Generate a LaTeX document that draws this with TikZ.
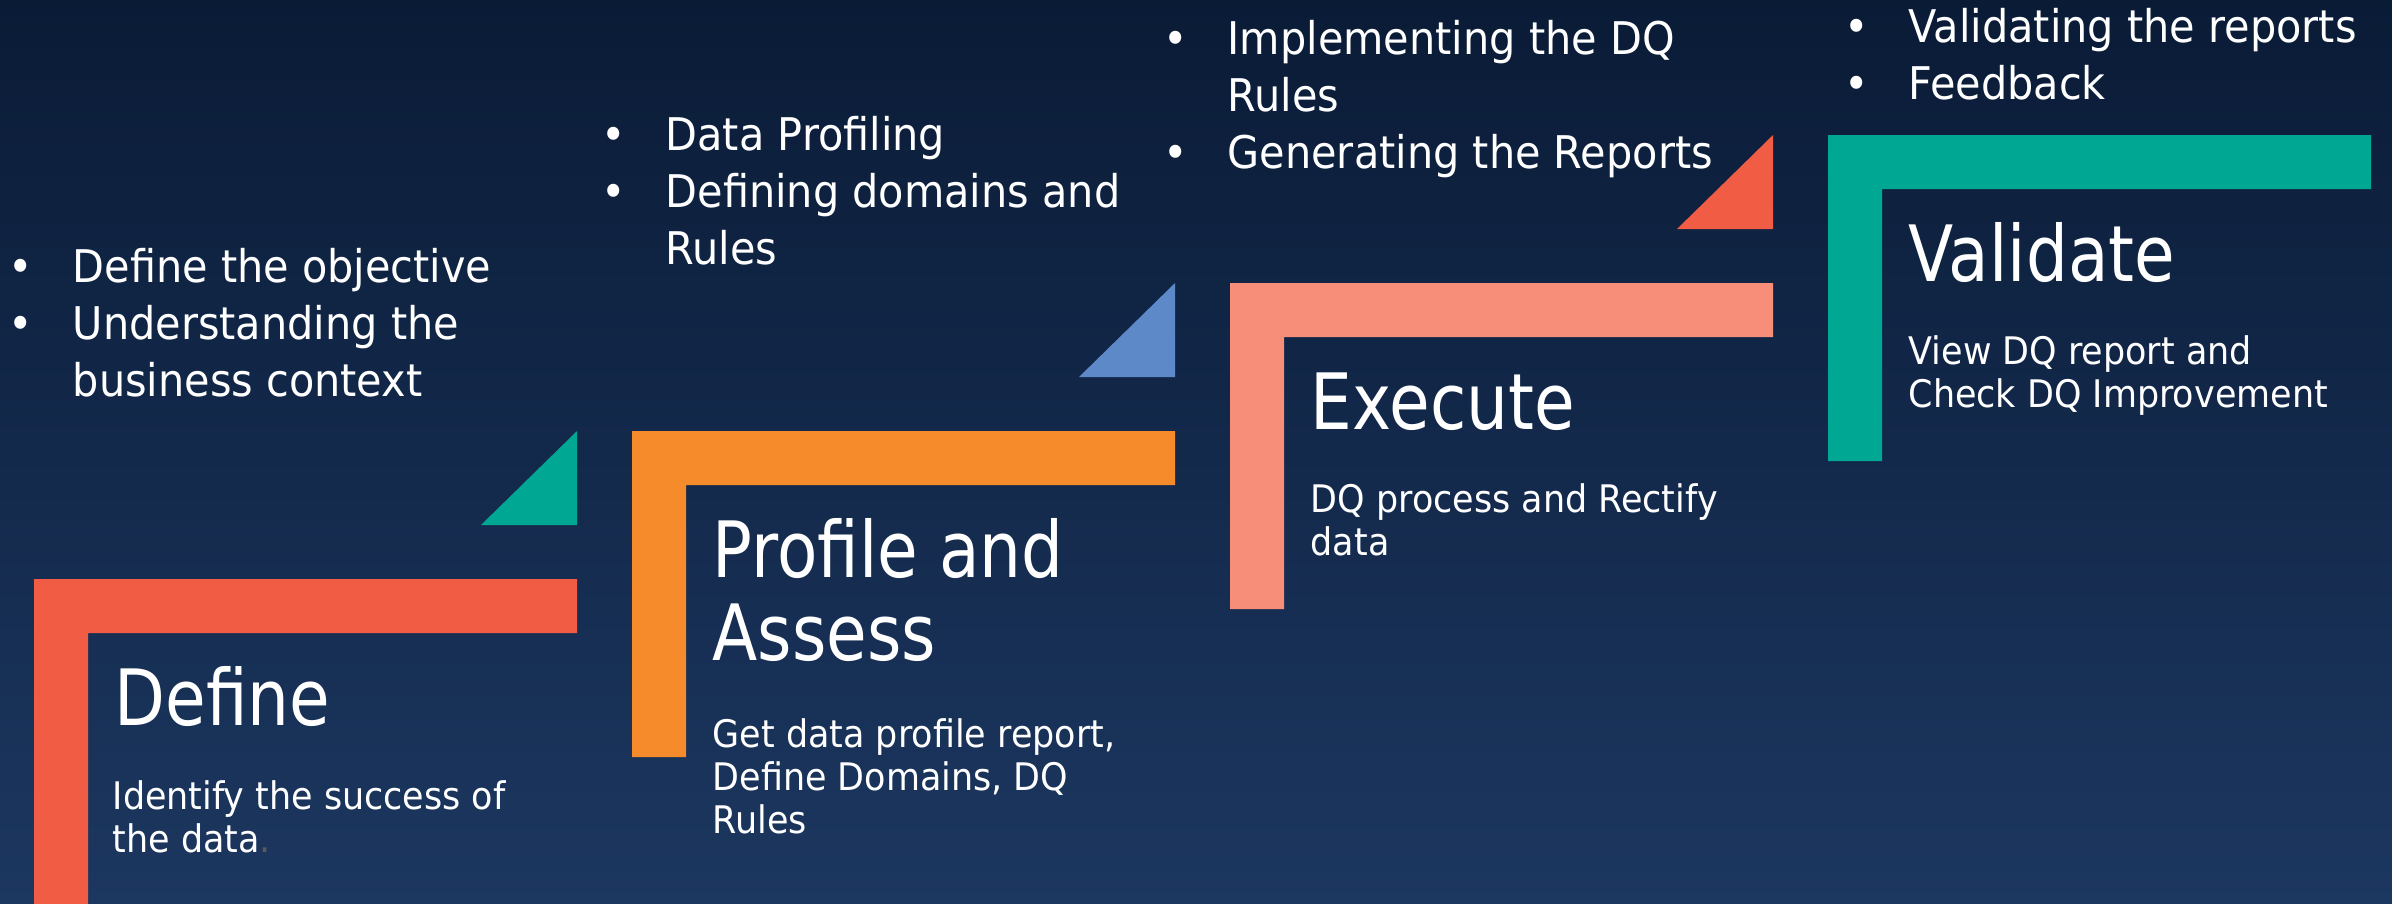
\documentclass[tikz,border=0pt]{standalone}
\usepackage{fontspec}
\setmainfont{DejaVu Sans}[FakeStretch=0.92]
\newfontfamily\headfont{DejaVu Sans}[FakeStretch=0.85]
\definecolor{bgtop}{HTML}{0A1B36}
\definecolor{bgbot}{HTML}{1C3760}
\definecolor{defred}{HTML}{F15C45}
\definecolor{profor}{HTML}{F68B2B}
\definecolor{execsal}{HTML}{F68E7A}
\definecolor{valteal}{HTML}{00A792}
\definecolor{triblue}{HTML}{5E89C8}
\newcommand{\blt}{\makebox[18.2pt][l]{\textbullet}}
\newcommand{\bind}{\hspace*{18.2pt}}
\begin{document}
\begin{tikzpicture}[x=0.01cm, y=-0.01cm,
    title/.style={anchor=base west, inner sep=0pt, text=white, align=left, font=\headfont\fontsize{22.1}{23.6}\selectfont},
    body/.style={anchor=base west, inner sep=0pt, text=white, align=left, font=\fontsize{10.8}{12.2}\selectfont},
    items/.style={anchor=base west, inner sep=0pt, text=white, align=left, font=\fontsize{12.8}{16.2}\selectfont}]
	    \useasboundingbox (0,0) rectangle (2392,903);
	    \shade[top color=bgtop, bottom color=bgbot] (0,0) rectangle (2392,903);
	    % steps
	    \fill[defred] (34,579) -- ++(543,0) -- ++(0,54) -- ++(-489,0) -- ++(0,272) -- ++(-54,0) -- cycle;
	    \fill[profor] (632,431) -- ++(543,0) -- ++(0,54) -- ++(-489,0) -- ++(0,272) -- ++(-54,0) -- cycle;
	    \fill[execsal] (1230,283) -- ++(543,0) -- ++(0,54) -- ++(-489,0) -- ++(0,272) -- ++(-54,0) -- cycle;
	    \fill[valteal] (1828,135) -- ++(543,0) -- ++(0,54) -- ++(-489,0) -- ++(0,272) -- ++(-54,0) -- cycle;
	    % triangles
	    \fill[valteal] (577,431) -- (577,525) -- (481,525) -- cycle;
	    \fill[triblue] (1175,283) -- (1175,377) -- (1079,377) -- cycle;
	    \fill[defred] (1773,135) -- (1773,229) -- (1677,229) -- cycle;
	    % titles and texts (base = last line)
	    \node[title] (define) at (114,725) {Define};
	    \node[body] (definetxt) at (112,852) {Identify the success of\\the data{\color[HTML]{5A5A5A}.}};
	    \node[title] (profile) at (712,660) {Profile and\\Assess};
	    \node[body] (profiletxt) at (712,833) {Get data profile report,\\Define Domains, DQ\\Rules};
	    \node[title] (execute) at (1310,429) {Execute};
	    \node[body] (executetxt) at (1310,555) {DQ process and Rectify\\data};
	    \node[title] (validate) at (1908,281) {Validate};
	    \node[body] (validatetxt) at (1908,407) {View DQ report and\\Check DQ Improvement};
	    % bullet lists
	    \node[items] (definelist) at (8,396) {\blt Define the objective\\\blt Understanding the\\\bind business context};
	    \node[items] (profilelist) at (601,264) {\blt Data Profiling\\\blt Defining domains and\\\bind Rules};
	    \node[items] (executelist) at (1163,168) {\blt Implementing the DQ\\\bind Rules\\\blt Generating the Reports};
	    \node[items] (validatelist) at (1844,99) {\blt Validating the reports\\\blt Feedback};
	\end{tikzpicture}
\end{document}
